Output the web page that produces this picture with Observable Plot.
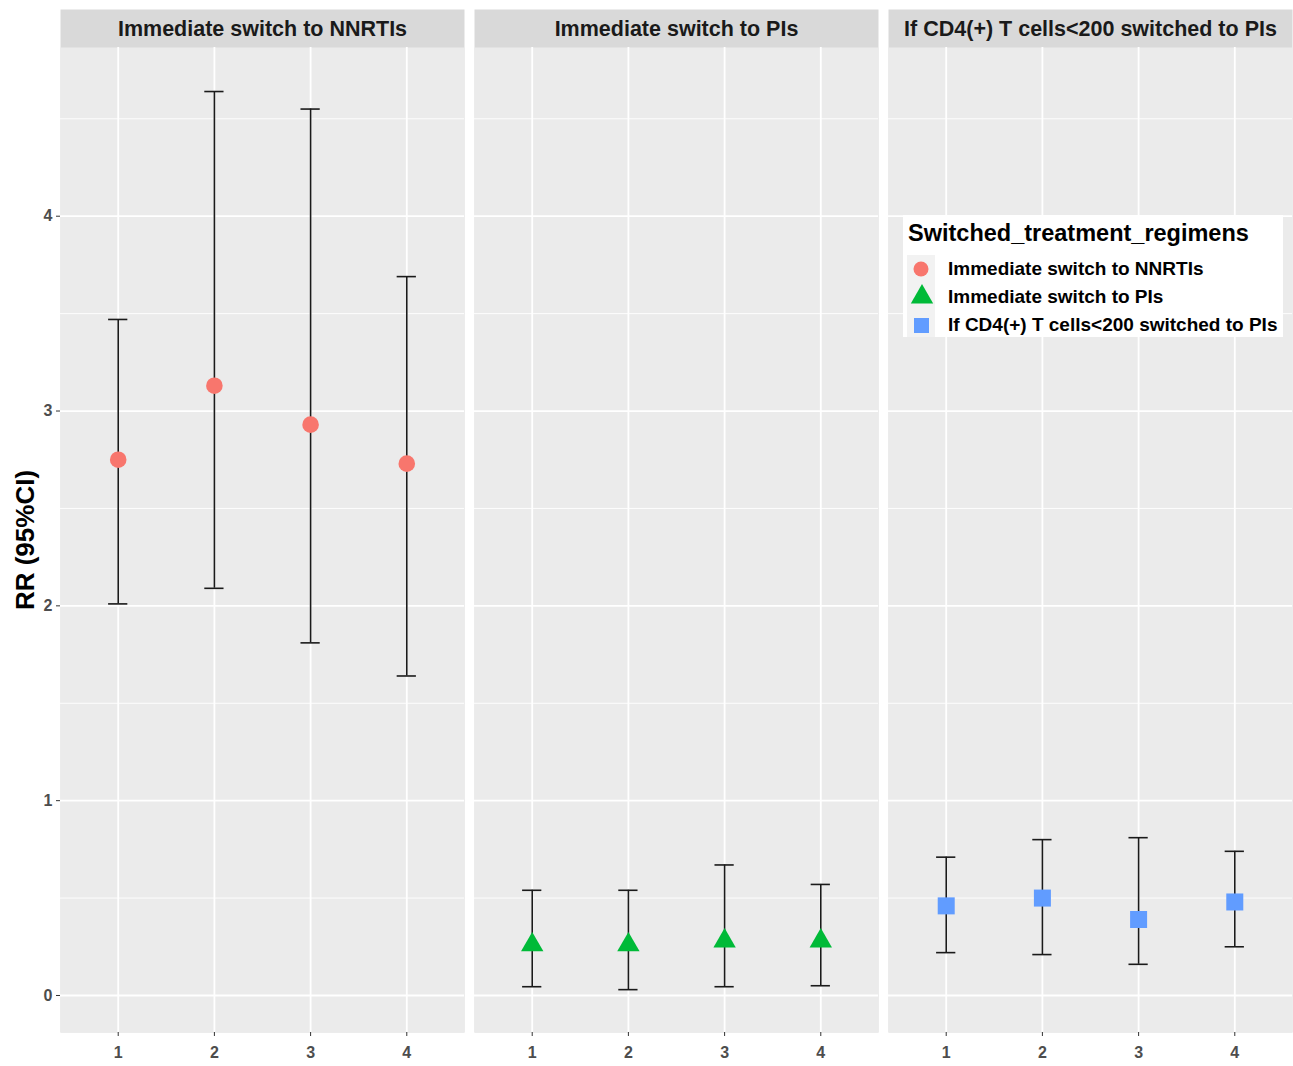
<!DOCTYPE html>
<html>
<head>
<meta charset="utf-8">
<script src="https://cdn.jsdelivr.net/npm/d3@7"></script>
<script src="https://cdn.jsdelivr.net/npm/@observablehq/plot@0.6"></script>
<style>
  html, body { margin: 0; padding: 0; background: #ffffff; }
  #wrap { position: relative; width: 1293px; height: 1066px; font-family: "Liberation Sans", Arial, sans-serif; }
  #legend { position: absolute; left: 903px; top: 215px; width: 380px; height: 122px; background: #ffffff; }
  #legend .title { position: absolute; left: 5px; top: 4px; font-size: 23.5px; font-weight: bold; color: #000; white-space: nowrap; line-height: 28px; }
  #legend .keys { position: absolute; left: 4px; top: 40px; width: 28px; height: 82px; background: #f2f2f2; }
  #legend .item { position: absolute; left: 45px; font-size: 19px; font-weight: bold; color: #000; white-space: nowrap; line-height: 22px; }
  #legend svg { position: absolute; left: 0; top: 0; overflow: visible; }
</style>
</head>
<body>
<div id="wrap"></div>
<script>
// ---- data ----
const groups = ["Immediate switch to NNRTIs", "Immediate switch to PIs", "If CD4(+) T cells<200 switched to PIs"];
const timepoints = [1, 2, 3, 4];
const rrNNRTI    = [2.75, 3.13, 2.93, 2.73];
const lowerNNRTI = [2.01, 2.09, 1.81, 1.64];
const upperNNRTI = [3.47, 4.64, 4.55, 3.69];
const rrPI       = [0.26, 0.26, 0.28, 0.28];
const lowerPI    = [0.045, 0.03, 0.045, 0.05];
const upperPI    = [0.54, 0.54, 0.67, 0.57];
const rrCD4      = [0.46, 0.50, 0.39, 0.48];
const lowerCD4   = [0.22, 0.21, 0.16, 0.25];
const upperCD4   = [0.71, 0.80, 0.81, 0.74];
const colors  = ["#F8766D", "#00BA38", "#619CFF"];
const yTicks  = [0, 1, 2, 3, 4];
const yMinor  = [0.5, 1.5, 2.5, 3.5, 4.5];

const series = [
  {rr: rrNNRTI, lo: lowerNNRTI, hi: upperNNRTI},
  {rr: rrPI, lo: lowerPI, hi: upperPI},
  {rr: rrCD4, lo: lowerCD4, hi: upperCD4}
];
const rows = [];
series.forEach((s, gi) => timepoints.forEach((t, i) => rows.push({g: groups[gi], t, rr: s.rr[i], lo: s.lo[i], hi: s.hi[i]})));
const byGroup = gi => rows.filter(d => d.g === groups[gi]);

const capHalf = 0.1;

const chart = Plot.plot({
  width: 1293,
  height: 1066,
  marginTop: 47,
  marginBottom: 34,
  marginLeft: 60,
  marginRight: 1,
  style: {fontFamily: "'Liberation Sans', Arial, sans-serif", background: "#ffffff"},
  fx: {domain: groups, axis: null, paddingInner: 0.0242, paddingOuter: 0},
  x: {domain: [0.4, 4.6]},
  y: {domain: [-0.19, 4.866]},
  marks: [
    Plot.frame({fill: "#d9d9d9", stroke: null, insetTop: -38}),
    Plot.frame({fill: "#ebebeb", stroke: null}),
    Plot.gridY(yMinor, {stroke: "#ffffff", strokeOpacity: 1, strokeWidth: 0.9}),
    Plot.gridY(yTicks, {stroke: "#ffffff", strokeOpacity: 1, strokeWidth: 1.8}),
    Plot.gridX(timepoints, {stroke: "#ffffff", strokeOpacity: 1, strokeWidth: 1.8}),
    Plot.axisY(yTicks, {tickSize: 4, tickPadding: 4, tickFormat: d3.format("d"), fontSize: 16, fontWeight: "bold", color: "#4d4d4d", stroke: "#333333", label: null}),
    Plot.axisX(timepoints, {tickSize: 4, tickPadding: 10, tickFormat: d3.format("d"), fontSize: 16, fontWeight: "bold", color: "#4d4d4d", stroke: "#333333", label: null}),
    Plot.text(groups, {fx: d => d, text: d => d, frameAnchor: "top", lineAnchor: "middle", dy: -18, fontSize: 21.5, fontWeight: "bold", fill: "#1a1a1a"}),
    Plot.text([groups[0]], {fx: d => d, text: () => "RR (95%CI)", frameAnchor: "left", textAnchor: "middle", lineAnchor: "middle", rotate: -90, dx: -35, fontSize: 26, fontWeight: "bold", fill: "#000000"}),
    Plot.ruleX(rows, {fx: "g", x: "t", y1: "lo", y2: "hi", stroke: "#1a1a1a", strokeWidth: 1.6}),
    Plot.ruleY(rows, {fx: "g", y: "hi", x1: d => d.t - capHalf, x2: d => d.t + capHalf, stroke: "#1a1a1a", strokeWidth: 1.6}),
    Plot.ruleY(rows, {fx: "g", y: "lo", x1: d => d.t - capHalf, x2: d => d.t + capHalf, stroke: "#1a1a1a", strokeWidth: 1.6}),
    Plot.dot(byGroup(0), {fx: "g", x: "t", y: "rr", symbol: "circle", r: 8.3, fill: colors[0], stroke: null}),
    Plot.dot(byGroup(1), {fx: "g", x: "t", y: "rr", symbol: "triangle", r: 8.3, fill: colors[1], stroke: null}),
    Plot.dot(byGroup(2), {fx: "g", x: "t", y: "rr", symbol: "square", r: 9.6, fill: colors[2], stroke: null})
  ]
});

const wrap = document.getElementById("wrap");
wrap.appendChild(chart);

// legend
const legend = document.createElement("div");
legend.id = "legend";
const ys = [54, 82, 110];
const sym = [
  `<circle cx="18" cy="${ys[0]}" r="7.5" fill="${colors[0]}"/>`,
  `<path d="${d3.symbol(d3.symbolTriangle, Math.PI * 8.3 * 8.3)()}" transform="translate(19,${ys[1]})" fill="${colors[1]}"/>`,
  `<rect x="11" y="${ys[2] - 7}" width="15" height="15" fill="${colors[2]}"/>`
];
legend.innerHTML = `<div class="title">Switched_treatment_regimens</div><div class="keys"></div>` +
  `<svg width="40" height="122">${sym.join("")}</svg>` +
  groups.map((g, i) => `<div class="item" style="top:${ys[i] - 11}px">${g.replace(/</g, "&lt;")}</div>`).join("");
wrap.appendChild(legend);
</script>
</body>
</html>
